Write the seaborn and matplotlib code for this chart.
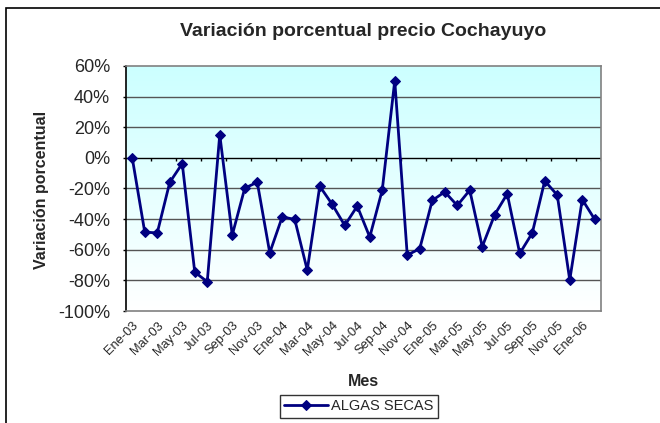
import numpy as np
import pandas as pd
import matplotlib
matplotlib.use("Agg")
import matplotlib.pyplot as plt
import seaborn as sns

sns.set_style("white")
plt.rcParams['font.family'] = ['Liberation Sans', 'DejaVu Sans']

# monthly series Ene-03 .. Feb-06
meses = ["Ene", "Feb", "Mar", "Abr", "May", "Jun", "Jul", "Ago", "Sep", "Oct", "Nov", "Dic"]
periodos = [f"{meses[i % 12]}-{3 + i // 12:02d}" for i in range(38)]
variacion = [0, -48.5, -49, -16, -3.7, -74.6, -80.9, 15.2, -50.4, -19.8, -15.9, -62,
             -38.5, -40.2, -73.3, -18.5, -30.4, -44.1, -31.5, -51.7, -21, 50.4, -63.5, -59.3,
             -27.8, -22.2, -31.1, -21.1, -58, -37, -23.5, -62.4, -49.1, -15, -24.3, -79.8,
             -27.2, -40.2]

df = pd.DataFrame({"idx": np.arange(len(periodos)), "periodo": periodos, "valor": variacion})

fig = plt.figure(figsize=(6.6, 4.23), dpi=100)
ax = fig.add_axes([126 / 660, 1 - 311 / 423, 475 / 660, 245 / 423])

# chart area border (top/left visible)
fig.patches.append(plt.Rectangle((6 / 660, -0.1), 1.2, 1 - 8 / 423 + 0.1, transform=fig.transFigure,
                                 fill=False, edgecolor="black", linewidth=1.2))

# gradient background
grad = np.linspace(0, 1, 256).reshape(-1, 1)
cmap = matplotlib.colors.LinearSegmentedColormap.from_list("bg", ["#FFFFFF", "#CCFFFF"])
ax.imshow(grad, extent=[0, 1, 0, 1], transform=ax.transAxes, cmap=cmap, origin="lower",
          aspect="auto", zorder=0)

ax.set_xlim(-0.5, len(periodos) - 0.5)
ax.set_ylim(-100, 60)

for v in range(-80, 60, 20):
    if v != 0:
        ax.axhline(v, color="#555555", linewidth=1, zorder=1)
ax.axhline(0, color="black", linewidth=1, zorder=1)
ax.vlines(np.arange(1.5, len(periodos), 2), -2.2, 0, color="black", linewidth=1, zorder=1)

sns.lineplot(data=df, x="idx", y="valor", ax=ax, color="#000080", marker="D", markersize=5,
             markeredgecolor="#000080", linewidth=2, label="ALGAS SECAS", zorder=3)

for s in ["top", "right", "bottom"]:
    ax.spines[s].set_color("#808080")
ax.spines["left"].set_color("black")
for s in ax.spines.values():
    s.set_linewidth(1.2)

ax.set_yticks(range(-100, 61, 20))
ax.set_yticklabels([f"{v}%" for v in range(-100, 61, 20)], fontsize=13)
ax.tick_params(axis="y", direction="out", length=2.5, width=1, color="black", left=True, pad=9)

ax.set_xticks(df["idx"][::2])
ax.set_xticklabels(df["periodo"][::2], rotation=45, ha="right", rotation_mode="anchor", fontsize=9.3)
ax.tick_params(axis="x", length=0, pad=6)

ax.set_xlabel("Mes", fontsize=11.5, fontweight="bold")
ax.xaxis.set_label_coords(363 / 660, 1 - 381 / 423, transform=fig.transFigure)
ax.xaxis.label.set_va("center")
ax.set_ylabel("Variación porcentual", fontsize=11.5, fontweight="bold")
ax.yaxis.set_label_coords(42 / 660, 1 - 190 / 423, transform=fig.transFigure)
ax.yaxis.label.set_va("center")
fig.text(363 / 660, 1 - 32 / 423, "Variación porcentual precio Cochayuyo", ha="center", va="center",
         fontsize=14, fontweight="bold")

ax.legend(loc="upper center", bbox_to_anchor=(359 / 660, 1 - 395 / 423), bbox_transform=fig.transFigure,
          frameon=True, fancybox=False, edgecolor="black", fontsize=10.5, borderpad=0.3,
          handlelength=3, handletextpad=0.2, borderaxespad=0)
ax.get_legend().get_frame().set_linewidth(1)

fig.savefig("out.png", dpi=100)
